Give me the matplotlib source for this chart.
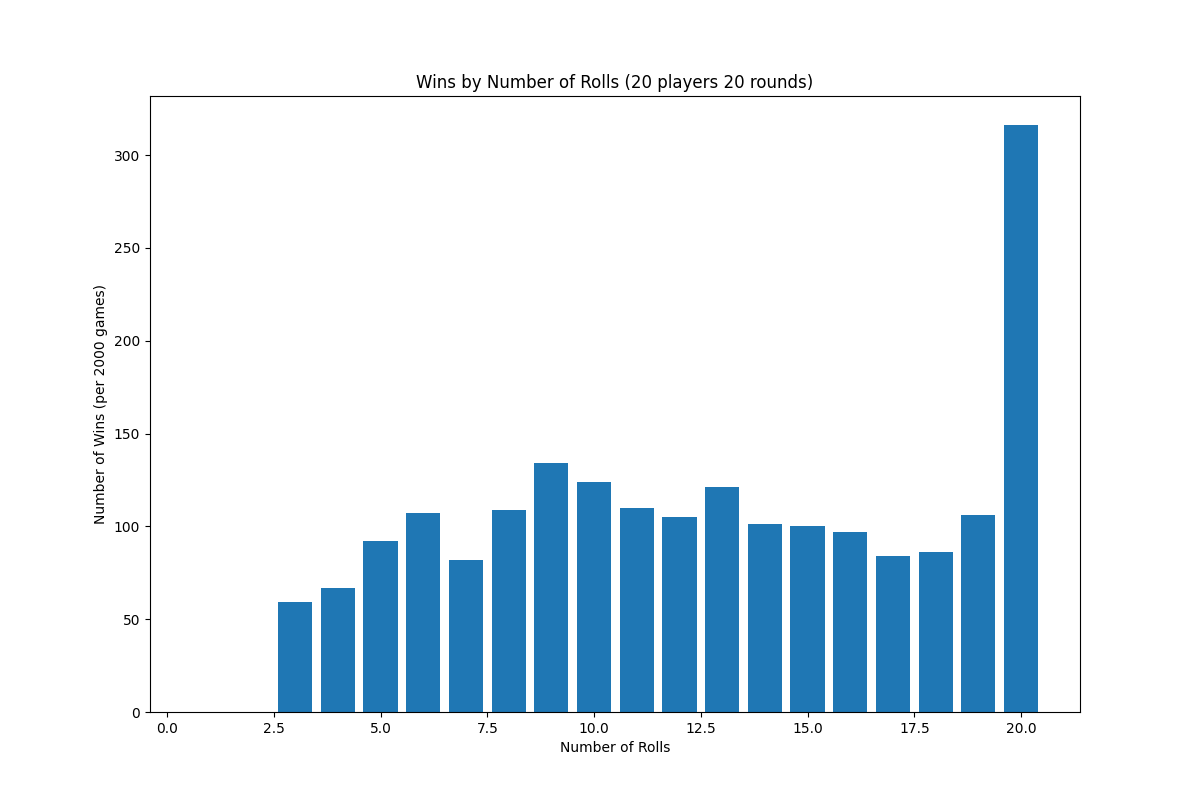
import matplotlib
matplotlib.use('Agg')
import matplotlib.pyplot as plt

# wins per number of rolls
rolls = list(range(0, 21))
wins = [0, 0, 0, 59, 67, 92, 107, 82, 109, 134, 124, 110, 105, 121,
        101, 100, 97, 84, 86, 106, 316]

plt.figure(figsize=(12, 8), dpi=100)
plt.bar(rolls, wins, color='#1f77b4')
plt.xlim(-0.4, 21.38)
plt.title('Wins by Number of Rolls (20 players 20 rounds)')
plt.xlabel('Number of Rolls')
plt.ylabel('Number of Wins (per 2000 games)')
plt.savefig('out.png')
